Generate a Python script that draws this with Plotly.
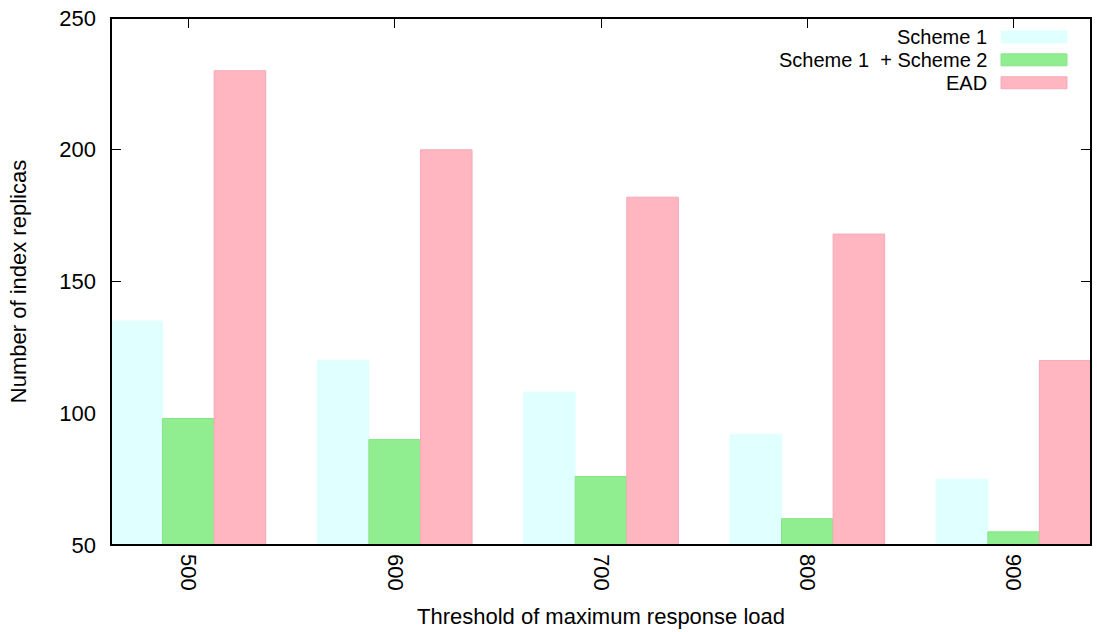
import plotly.graph_objects as go

categories = ["500", "600", "700", "800", "900"]
scheme1 = [135, 120, 108, 92, 75]
scheme12 = [98, 90, 76, 60, 55]
ead = [230, 200, 182, 168, 120]
series_names = ["Scheme 1", "Scheme 1  + Scheme 2", "EAD"]
colors = ["#E0FFFF", "#90EE90", "#FFB6C1"]
edge_colors = ["#E0FFFF", "#86E486", "#F5AAB6"]
y_ticks = [50, 100, 150, 200, 250]

FONT = "Liberation Sans, Arial, sans-serif"
FS = 22
LFS = 20

fig = go.Figure()
xs = list(range(len(categories)))
for name, vals, col, ec in zip(series_names, [scheme1, scheme12, ead], colors, edge_colors):
    fig.add_trace(go.Bar(
        x=xs, y=vals, base=0, name=name,
        marker=dict(color=col, line=dict(color=ec, width=1)),
        showlegend=False,
    ))

fig.update_layout(
    width=1097, height=632,
    margin=dict(l=111, r=6, t=16, b=87),
    plot_bgcolor="white", paper_bgcolor="white",
    barmode="group", bargap=0.25, bargroupgap=0,
    font=dict(family=FONT, size=FS, color="black"),
    xaxis=dict(
        range=[-0.375, 4.375],
        tickmode="array", tickvals=xs, ticktext=categories,
        tickangle=90,
        ticks="inside", ticklen=10, tickcolor="black", tickwidth=1,
        mirror="ticks", showline=False, showgrid=False, zeroline=False,
        layer="below traces",
        ticklabelstandoff=8,
        title=dict(text="Threshold of maximum response load", standoff=18,
                   font=dict(size=FS)),
        tickfont=dict(size=FS),
    ),
    yaxis=dict(
        range=[50, 250],
        tickmode="array", tickvals=y_ticks,
        ticks="inside", ticklen=10, tickcolor="black", tickwidth=1,
        mirror="ticks", showline=False, showgrid=False, zeroline=False,
        layer="below traces",
        ticklabelstandoff=14,
        title=dict(text="Number of index replicas", standoff=26,
                   font=dict(size=FS)),
        tickfont=dict(size=FS),
    ),
)

# frame
fig.add_shape(type="rect", xref="paper", yref="paper", x0=0, x1=1, y0=0, y1=1,
              line=dict(color="black", width=2), layer="above")

# custom gnuplot-style legend (text right-aligned, swatch on the right)
plot_w = 1097 - 111 - 6
plot_h = 632 - 16 - 87
text_right_px = 988 - 111
sw_x0_px = 1001 - 111
sw_x1_px = 1067 - 111
rows_px = [35 - 16, 58 - 16, 81 - 16]
for name, col, ec, rp in zip(series_names, colors, edge_colors, rows_px):
    yc = 1 - rp / plot_h
    fig.add_annotation(xref="paper", yref="paper", x=text_right_px / plot_w, y=yc,
                       text=name, showarrow=False, xanchor="right", yanchor="middle",
                       borderpad=0,
                       font=dict(size=LFS, family=FONT, color="black"))
    fig.add_shape(type="rect", xref="paper", yref="paper",
                  x0=sw_x0_px / plot_w, x1=sw_x1_px / plot_w,
                  y0=yc - 6 / plot_h, y1=yc + 6 / plot_h,
                  fillcolor=col, line=dict(color=ec, width=1), layer="above")

fig.write_html("out.html")
